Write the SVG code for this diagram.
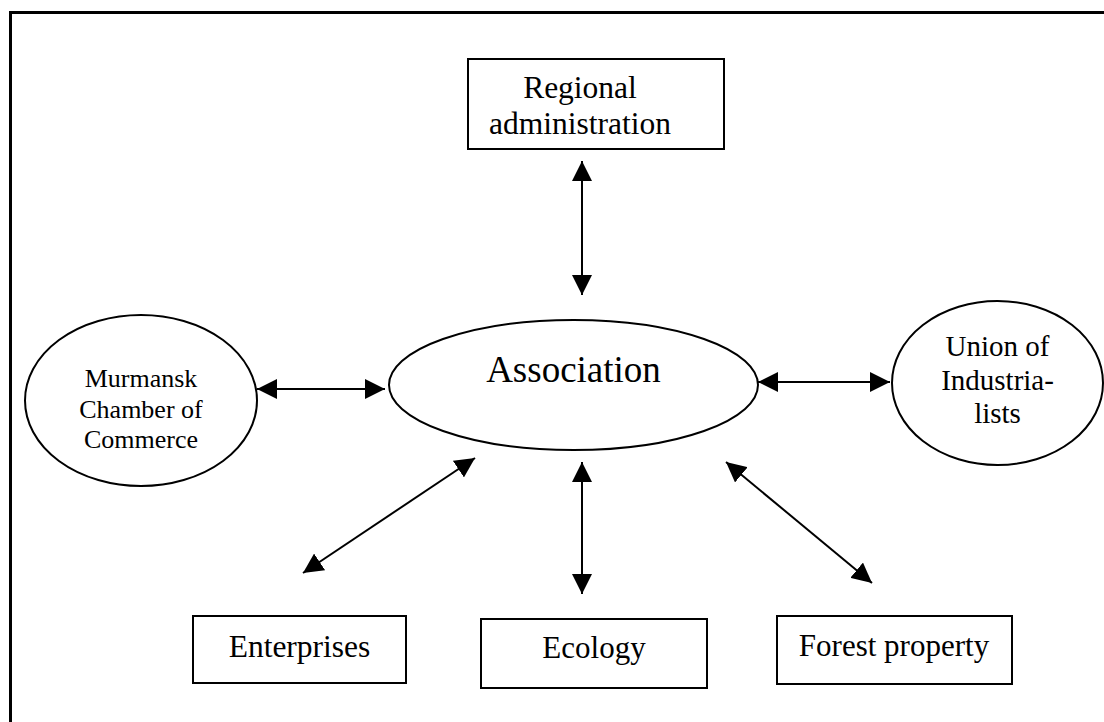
<svg xmlns="http://www.w3.org/2000/svg" width="1104" height="722" viewBox="0 0 1104 722">
<style>
.box{fill:#fff;stroke:#000;stroke-width:2}
.ell{fill:#fff;stroke:#000;stroke-width:2}
.t{font-family:"Liberation Serif","Times New Roman",serif;fill:#000;text-anchor:middle}
.c{stroke:#000;stroke-width:2;fill:none;marker-start:url(#ah);marker-end:url(#ah)}
</style>
<defs>
<marker id="ah" viewBox="0 0 20 20" markerWidth="20" markerHeight="20" markerUnits="userSpaceOnUse" refX="20" refY="10" orient="auto-start-reverse">
<path d="M0,0 L20,10 L0,20 z" fill="#000"/>
</marker>
</defs>
<rect width="1104" height="722" fill="#fff"/>
<rect x="10.5" y="12.5" width="1200" height="800" fill="none" stroke="#000" stroke-width="3"/>
<g id="connectors">
<line class="c" x1="582" y1="161" x2="582" y2="295"/>
<line class="c" x1="257" y1="389" x2="385" y2="389"/>
<line class="c" x1="758" y1="382" x2="890" y2="382"/>
<line class="c" x1="582" y1="462" x2="582" y2="594"/>
<line class="c" x1="475" y1="458" x2="303" y2="573"/>
<line class="c" x1="726" y1="462" x2="872" y2="583"/>
</g>
<g id="regional">
<rect class="box" x="468" y="59" width="256" height="90"/>
<text class="t" x="580" y="98" font-size="31.5">Regional</text>
<text class="t" x="580" y="134" font-size="31.5">administration</text>
</g>
<g id="association">
<ellipse class="ell" cx="573.5" cy="385" rx="184.5" ry="65"/>
<text class="t" x="573.5" y="382" font-size="37">Association</text>
</g>
<g id="murmansk">
<ellipse class="ell" cx="141" cy="400.5" rx="116" ry="85.5"/>
<text class="t" x="141" y="387" font-size="26">Murmansk</text>
<text class="t" x="141" y="418" font-size="26">Chamber of</text>
<text class="t" x="141" y="448" font-size="26">Commerce</text>
</g>
<g id="union">
<ellipse class="ell" cx="997.5" cy="383" rx="105.5" ry="82"/>
<text class="t" x="997.5" y="356" font-size="29">Union of</text>
<text class="t" x="997.5" y="390" font-size="29">Industria-</text>
<text class="t" x="997.5" y="423" font-size="29">lists</text>
</g>
<g id="enterprises">
<rect class="box" x="193" y="616" width="213" height="67"/>
<text class="t" x="299.5" y="657" font-size="31.5">Enterprises</text>
</g>
<g id="ecology">
<rect class="box" x="481" y="619" width="226" height="69"/>
<text class="t" x="594" y="658" font-size="31">Ecology</text>
</g>
<g id="forest">
<rect class="box" x="777" y="616" width="235" height="68"/>
<text class="t" x="894" y="656" font-size="31">Forest property</text>
</g>
</svg>
